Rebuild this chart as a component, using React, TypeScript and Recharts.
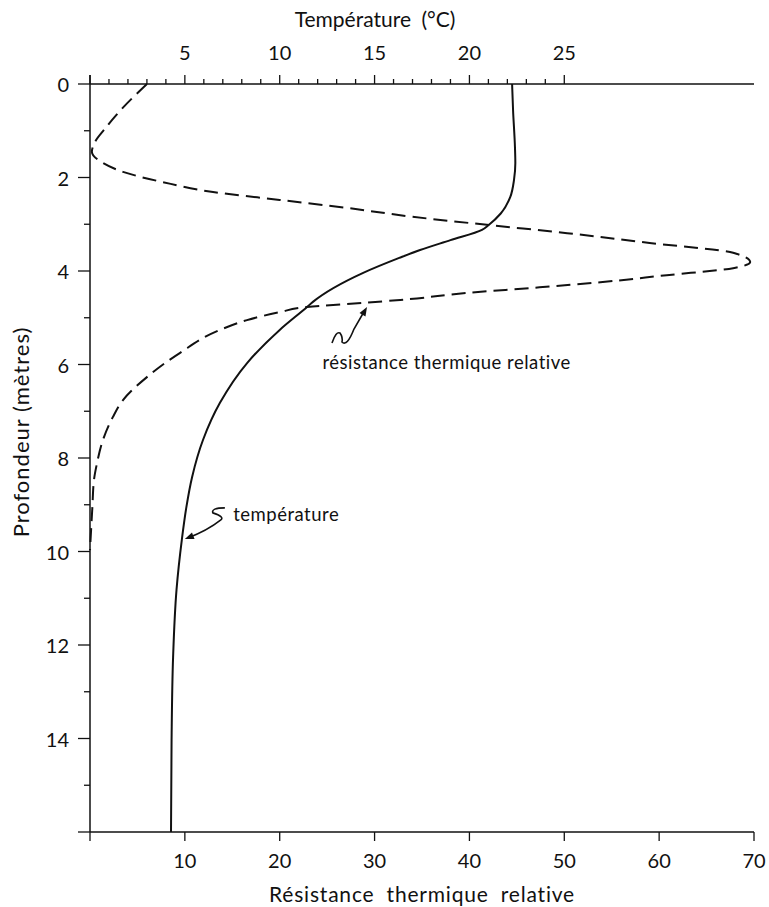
import React from 'react';
import { LineChart, Line, XAxis, YAxis, ReferenceDot, Label } from 'recharts';

const FONT = 'Lato, "DejaVu Sans", sans-serif';

// Temperature profile (°C) vs depth (m)
const tempDepth = [0, 0.56, 1.35, 1.69, 2.05, 2.42, 2.77, 3.02, 3.12, 3.34, 3.55, 3.72, 4.04, 4.66, 4.77, 5.26, 5.97, 6.82, 7.61, 8.41, 9.05, 9.75, 10.82, 12.26, 14.03, 16];
const tempValues = [22.25, 22.3, 22.4, 22.42, 22.35, 22.15, 21.65, 21.0, 20.66, 19.0, 17.4, 16.3, 14.4, 11.75, 11.44, 10.0, 8.28, 6.85, 5.96, 5.38, 5.08, 4.84, 4.56, 4.38, 4.3, 4.27];

// Relative thermal resistance vs depth (m)
const resDepth = [0, 0.5, 0.95, 1.25, 1.45, 1.69, 1.88, 2.1, 2.31, 2.48, 2.65, 2.84, 3.02, 3.19, 3.4, 3.61, 3.81, 3.94, 4.09, 4.24, 4.36, 4.47, 4.62, 4.68, 4.77, 4.88, 5.05, 5.26, 5.75, 6.27, 6.76, 7.12, 7.61, 8.11, 8.47, 9.05, 9.97];
const resValues = [6.0, 3.5, 1.6, 0.5, 0.2, 1.37, 3.48, 7.7, 12.97, 20.0, 27.1, 34.0, 42.2, 50.3, 59.0, 67.8, 69.6, 67.8, 60.8, 53.8, 46.7, 39.7, 32.7, 28.8, 22.9, 20.0, 16.55, 13.7, 9.5, 6.0, 3.48, 2.42, 1.37, 0.74, 0.42, 0.25, 0.0];

const resTicks = [0, 10, 20, 30, 40, 50, 60, 70];
const tempTicks = [0, 1, 2, 3, 4, 5, 6, 7, 8, 9, 10, 11, 12, 13, 14, 15, 16, 17, 18, 19, 20, 21, 22, 23, 24, 25];
const depthTicks = [0, 1, 2, 3, 4, 5, 6, 7, 8, 9, 10, 11, 12, 13, 14, 15, 16];

const titleTop = 'Température (°C)';
const titleBottom = 'Résistance thermique relative';
const titleLeft = 'Profondeur (mètres)';
const annoRes = { text: 'résistance thermique relative', x: 24.5, y: 5.95, tipX: 29.2, tipY: 4.77 };
const annoTemp = { text: 'température', x: 15.1, y: 9.2, tipX: 5.0, tipY: 9.73 };

const depthSet = Array.from(new Set([...tempDepth, ...resDepth])).sort((a, b) => a - b);
const data = depthSet.map((d) => {
  const ti = tempDepth.indexOf(d);
  const ri = resDepth.indexOf(d);
  return {
    depth: d,
    temp: ti >= 0 ? tempValues[ti] : null,
    res: ri >= 0 ? resValues[ri] : null,
  };
});

const INK = '#111';

const TopTick = (props: any) => {
  const { x, y, payload } = props;
  const v = payload.value;
  const major = v % 5 === 0;
  return (
    <g>
      <line x1={x} x2={x} y1={y} y2={y - (major ? 9 : 5)} stroke={INK} strokeWidth={1.3} />
      {major && v > 0 && (
        <text x={x} y={y - 24} textAnchor="middle" fontFamily={FONT} fontSize={20} fill={INK}>
          {v}
        </text>
      )}
    </g>
  );
};

const LeftTick = (props: any) => {
  const { x, y, payload } = props;
  const v = payload.value;
  const major = v % 2 === 0;
  return (
    <g>
      <line x1={x - (major ? 12 : 6)} x2={x} y1={y} y2={y} stroke={INK} strokeWidth={1.3} />
      {v === 0 && <line x1={x} x2={x} y1={y - 9} y2={y} stroke={INK} strokeWidth={1.5} />}
      {major && v < 16 && (
        <text x={x - 21} y={y} textAnchor="end" dominantBaseline="central" fontFamily={FONT} fontSize={20} fill={INK}>
          {v}
        </text>
      )}
    </g>
  );
};

const BottomTick = (props: any) => {
  const { x, y, payload } = props;
  const v = payload.value;
  return (
    <g>
      <line x1={x} x2={x} y1={y} y2={y + 9} stroke={INK} strokeWidth={1.3} />
      {v > 0 && (
        <text x={x} y={y + 36} textAnchor="middle" fontFamily={FONT} fontSize={20} fill={INK}>
          {v}
        </text>
      )}
    </g>
  );
};

const ResArrow = (p: any) => {
  const { cx, cy } = p;
  return (
    <g transform={`translate(${cx},${cy})`}>
      <path d="M -35 36 Q -31 24 -27 26 Q -24 30 -25 35 Q -20 40 -13 22 L -2 3" fill="none" stroke={INK} strokeWidth={1.6} />
      <polygon points="0,0 -1.5,9.5 -7.5,6" fill={INK} />
    </g>
  );
};

const TempArrow = (p: any) => {
  const { cx, cy } = p;
  return (
    <g transform={`translate(${cx},${cy})`}>
      <path d="M 40 -31 Q 26 -31 28 -26 Q 40 -22 36 -19 Q 22 -8 3 -1" fill="none" stroke={INK} strokeWidth={1.6} />
      <polygon points="0,0 9.7,0 7.1,-6.5" fill={INK} />
    </g>
  );
};

const AnnoText = (text: string) => (p: any) => (
  <text x={p.cx} y={p.cy} dominantBaseline="central" fontFamily={FONT} fontSize={18.5} letterSpacing={0.5} fill={INK}>
    {text}
  </text>
);

export default function App() {
  return (
    <div style={{ position: 'absolute', left: 0, top: 0, background: '#fff' }}>
      <LineChart
        width={769}
        height={907}
        data={data}
        layout="vertical"
        margin={{ top: 0, right: 15, bottom: 0, left: 0 }}
      >
        <XAxis
          xAxisId="res"
          type="number"
          orientation="bottom"
          domain={[0, 70]}
          ticks={resTicks}
          height={75}
          tickSize={0}
          tickMargin={0}
          tickLine={false}
          tick={<BottomTick />}
          axisLine={{ stroke: INK, strokeWidth: 1.5 }}
          interval={0}
        >
          <Label
            content={(lp: any) => {
              const vb = lp.viewBox;
              return (
                <text x={vb.x + vb.width / 2} y={vb.y + 70} textAnchor="middle" fontFamily={FONT} fontSize={21} letterSpacing={0.8} wordSpacing={6} fill={INK}>
                  {titleBottom}
                </text>
              );
            }}
          />
        </XAxis>
        <XAxis
          xAxisId="temp"
          type="number"
          orientation="top"
          domain={[0, 35]}
          ticks={tempTicks}
          height={84}
          tickSize={0}
          tickMargin={0}
          tickLine={false}
          tick={<TopTick />}
          axisLine={{ stroke: INK, strokeWidth: 1.5 }}
          interval={0}
        >
          <Label
            content={(lp: any) => {
              const vb = lp.viewBox;
              return (
                <text x={vb.x + vb.width / 2 - 47} y={vb.y + 27} textAnchor="middle" fontFamily={FONT} fontSize={21} wordSpacing={5} fill={INK}>
                  {titleTop}
                </text>
              );
            }}
          />
        </XAxis>
        <YAxis
          yAxisId="d"
          type="number"
          dataKey="depth"
          domain={[0, 16]}
          ticks={depthTicks}
          width={90}
          tickSize={0}
          tickMargin={0}
          tickLine={false}
          tick={<LeftTick />}
          axisLine={{ stroke: INK, strokeWidth: 1.5 }}
          interval={0}
        >
          <Label
            content={(lp: any) => {
              const vb = lp.viewBox;
              const cx = vb.x + 20;
              const cy = vb.y + vb.height / 2 - 26;
              return (
                <text
                  x={cx}
                  y={cy}
                  transform={`rotate(-90, ${cx}, ${cy})`}
                  textAnchor="middle"
                  dominantBaseline="central"
                  fontFamily={FONT}
                  fontSize={22}
                  letterSpacing={1}
                  fill={INK}
                >
                  {titleLeft}
                </text>
              );
            }}
          />
        </YAxis>
        <Line
          xAxisId="temp"
          yAxisId="d"
          dataKey="temp"
          type="monotone"
          stroke={INK}
          strokeWidth={2}
          dot={false}
          activeDot={false}
          connectNulls
          isAnimationActive={false}
        />
        <Line
          xAxisId="res"
          yAxisId="d"
          dataKey="res"
          type="monotone"
          stroke={INK}
          strokeWidth={2}
          strokeDasharray="14 7"
          dot={false}
          activeDot={false}
          connectNulls
          isAnimationActive={false}
        />
        <ReferenceDot xAxisId="res" yAxisId="d" x={annoRes.tipX} y={annoRes.tipY} r={0} ifOverflow="visible" shape={ResArrow} />
        <ReferenceDot xAxisId="res" yAxisId="d" x={annoRes.x} y={annoRes.y} r={0} ifOverflow="visible" shape={AnnoText(annoRes.text)} />
        <ReferenceDot xAxisId="temp" yAxisId="d" x={annoTemp.tipX} y={annoTemp.tipY} r={0} ifOverflow="visible" shape={TempArrow} />
        <ReferenceDot xAxisId="res" yAxisId="d" x={annoTemp.x} y={annoTemp.y} r={0} ifOverflow="visible" shape={AnnoText(annoTemp.text)} />
      </LineChart>
    </div>
  );
}
